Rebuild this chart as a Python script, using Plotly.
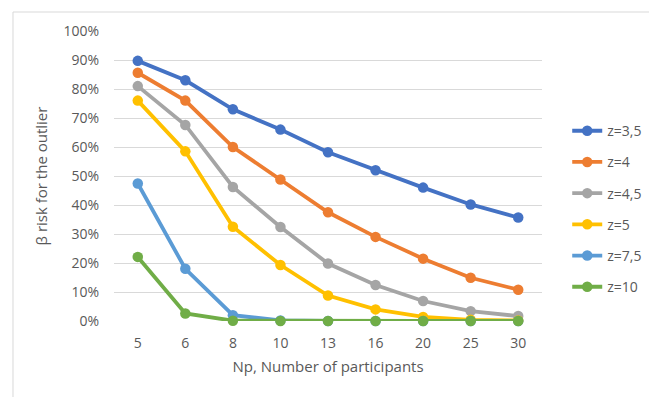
import plotly.graph_objects as go

# Number of participants (categorical x axis)
participants = ["5", "6", "8", "10", "13", "16", "20", "25", "30"]

# Beta risk (%) for each z threshold
z_labels = ["z=3,5", "z=4", "z=4,5", "z=5", "z=7,5", "z=10"]
beta_z35 = [89.7, 83.0, 73.0, 66.0, 58.2, 52.0, 46.0, 40.2, 35.7]
beta_z4 = [85.6, 76.0, 60.0, 48.8, 37.5, 29.0, 21.5, 14.9, 10.8]
beta_z45 = [81.0, 67.6, 46.2, 32.4, 19.8, 12.4, 6.9, 3.4, 1.7]
beta_z5 = [76.0, 58.5, 32.5, 19.3, 8.8, 4.0, 1.4, 0.4, 0.2]
beta_z75 = [47.4, 18.0, 2.0, 0.2, 0.0, 0.0, 0.0, 0.0, 0.0]
beta_z10 = [22.1, 2.6, 0.1, 0.0, 0.0, 0.0, 0.0, 0.0, 0.0]
series = [beta_z35, beta_z4, beta_z45, beta_z5, beta_z75, beta_z10]

colors = ["#4472C4", "#ED7D31", "#A5A5A5", "#FFC000", "#5B9BD5", "#70AD47"]

y_ticks = list(range(0, 101, 10))
y_tick_text = [f"{v}%" for v in y_ticks]

text_color = "#595959"
font_family = "Open Sans, Liberation Sans, sans-serif"

fig = go.Figure()
for name, vals, col in zip(z_labels, series, colors):
    fig.add_trace(go.Scatter(
        x=participants, y=vals, name=name, mode="lines+markers",
        line=dict(color=col, width=3.8),
        marker=dict(color=col, size=10.5),
        legendgroup=name,
        cliponaxis=False,
    ))

fig.update_layout(
    width=649, height=397,
    margin=dict(l=114, r=107, t=31, b=76, autoexpand=False),
    paper_bgcolor="white", plot_bgcolor="white",
    font=dict(family=font_family, size=14, color=text_color),
    showlegend=True,
    legend=dict(
        xref="container", yref="container",
        x=0.874, y=0.71, xanchor="left", yanchor="top",
        font=dict(size=14, color=text_color),
        tracegroupgap=10,
        bgcolor="rgba(0,0,0,0)",
    ),
    xaxis=dict(
        type="category", categoryorder="array", categoryarray=participants,
        range=[-0.5, len(participants) - 0.5],
        showgrid=False, zeroline=False, showline=False, ticks="",
        tickfont=dict(size=14, color=text_color),
        ticklabelstandoff=12,
        title=dict(text="Np, Number of participants", font=dict(size=15, color=text_color), standoff=10),
    ),
    yaxis=dict(
        range=[0, 100], tickvals=y_ticks, ticktext=y_tick_text,
        showgrid=True, gridcolor="#D9D9D9", gridwidth=1,
        zeroline=False, showline=False, ticks="",
        tickfont=dict(size=14, color=text_color),
        ticklabelstandoff=14,
        title=dict(text="β risk for the outlier", font=dict(size=15, color=text_color), standoff=12),
    ),
    shapes=[
        dict(type="line", xref="paper", yref="paper",
             x0=-0.236, x1=1.3, y0=1.0655, y1=1.0655,
             line=dict(color="#D9D9D9", width=1)),
        dict(type="line", xref="paper", yref="paper",
             x0=-0.236, x1=-0.236, y0=1.0655, y1=-0.3,
             line=dict(color="#D9D9D9", width=1)),
    ],
)

fig.write_html("out.html")
